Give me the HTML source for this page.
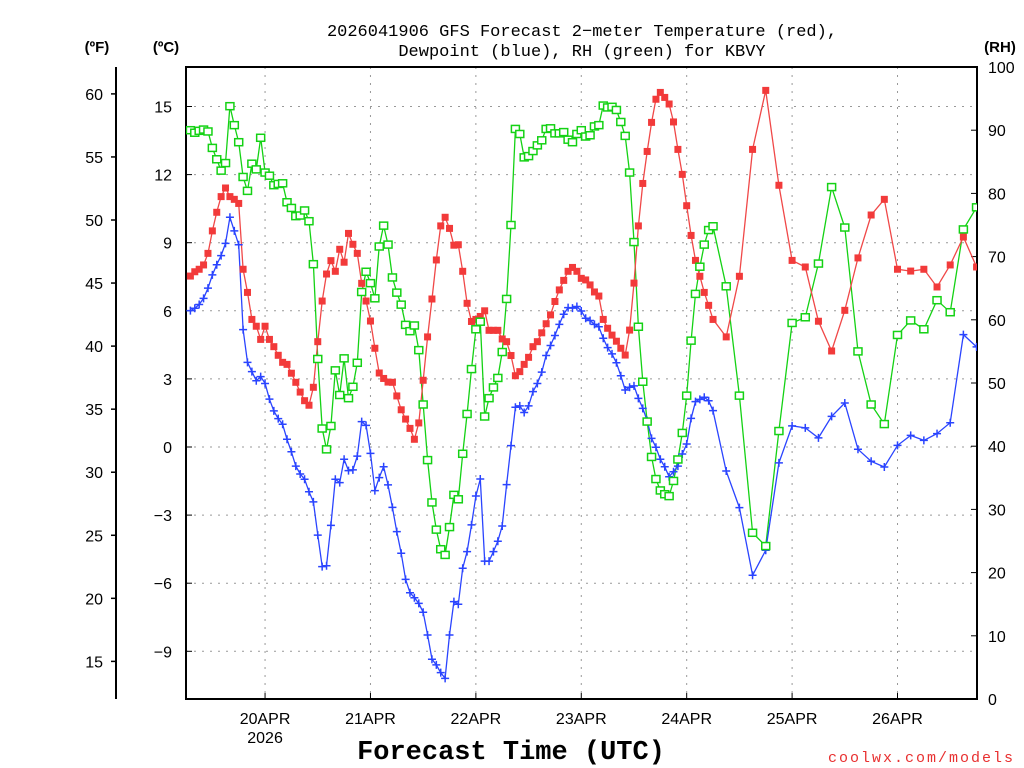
<!DOCTYPE html>
<html><head><meta charset="utf-8"><style>
html,body{margin:0;padding:0;background:#fff;}
svg{display:block;font-family:"Liberation Sans",sans-serif;}
</style></head><body>
<svg id="chart" width="1024" height="768" viewBox="0 0 1024 768" xmlns="http://www.w3.org/2000/svg">
<text x="582" y="36" font-size="17" font-family="Liberation Mono, monospace" text-anchor="middle">2026041906 GFS Forecast 2−meter Temperature (red),</text>
<text x="582" y="56" font-size="17" font-family="Liberation Mono, monospace" text-anchor="middle">Dewpoint (blue), RH (green) for KBVY</text>
<text x="97" y="52" font-size="15" font-weight="bold" text-anchor="middle">(ºF)</text>
<text x="166" y="52" font-size="15" font-weight="bold" text-anchor="middle">(ºC)</text>
<text x="1000" y="52" font-size="15" font-weight="bold" text-anchor="middle">(RH)</text>
<g id="grid"></g>
<g id="axes"></g>
<g id="series"></g>
<text x="511" y="759" font-size="27" font-family="Liberation Mono, monospace" font-weight="bold" text-anchor="middle">Forecast Time (UTC)</text>
<text x="1015" y="762" font-size="15" font-family="Liberation Mono, monospace" fill="#e83030" text-anchor="end" letter-spacing="2">coolwx.com/models</text>
</svg>
<script>
var dayLabels = ["20APR","21APR","22APR","23APR","24APR","25APR","26APR"];
var dayHours = [18,42,66,90,114,138,162];
var cTicks = [-9,-6,-3,0,3,6,9,12,15];
var fTicks = [15,20,25,30,35,40,45,50,55,60];
var rhTicks = [0,10,20,30,40,50,60,70,80,90,100];
var tempC = [7.53,7.72,7.83,8.02,8.53,9.52,10.34,11.03,11.41,11.03,10.91,10.73,7.83,6.81,5.62,5.32,4.74,5.32,4.74,4.42,4.04,3.73,3.64,3.25,2.85,2.42,2.04,1.84,2.63,4.64,6.43,
7.62,8.21,7.74,8.71,8.14,9.41,8.93,8.53,7.21,6.43,5.55,4.35,3.26,3.02,2.86,2.85,2.25,1.64,1.23,0.82,0.34,1.06,2.94,4.85,6.52,8.24,9.74,10.12,9.63,
8.89,8.91,7.74,6.33,5.53,5.62,5.75,6.00,5.14,5.14,5.14,4.76,4.64,4.03,3.14,3.32,3.64,3.95,4.42,4.64,5.03,5.43,5.82,6.41,6.92,7.34,7.74,7.91,7.74,
7.43,7.36,7.14,6.83,6.65,5.62,5.23,4.93,4.66,4.35,4.05,5.15,7.22,9.74,11.61,13.02,14.30,15.32,15.62,15.40,15.11,14.32,13.11,12.01,10.63,9.32,8.22,7.52,6.81,6.24,5.62,
4.85,7.52,13.11,15.71,11.53,8.22,7.93,5.54,4.23,6.02,8.33,10.22,10.91,7.83,7.75,7.83,7.05,8.02,9.25,7.93];
var dewC = [6.01,6.11,6.28,6.55,7.00,7.58,8.03,8.43,8.97,10.12,9.52,8.91,5.17,3.73,3.32,2.92,3.10,2.80,2.11,1.59,1.25,1.00,0.34,-0.21,-0.84,-1.19,-1.42,-1.97,-2.42,-3.88,-5.27,
-5.23,-3.45,-1.42,-1.57,-0.54,-1.04,-1.01,-0.40,1.12,0.95,-0.28,-1.92,-1.35,-0.87,-1.67,-2.66,-3.73,-4.68,-5.83,-6.42,-6.64,-6.89,-7.28,-8.28,-9.35,-9.60,-9.94,-10.19,-8.28,
-6.81,-6.93,-5.34,-4.61,-3.43,-2.16,-1.41,-5.03,-5.03,-4.61,-4.15,-3.48,-1.66,0.06,1.75,1.81,1.52,1.81,2.44,2.80,3.30,4.03,4.47,4.91,5.40,5.85,6.14,6.12,6.19,
5.99,5.67,5.57,5.40,5.30,4.79,4.38,4.10,3.71,3.14,2.51,2.63,2.69,2.14,1.70,1.16,0.38,-0.01,-0.54,-0.87,-1.31,-1.09,-0.84,-0.31,0.13,1.26,2.00,2.10,2.19,2.04,1.60,
-1.06,-2.67,-5.65,-4.55,-0.70,0.93,0.84,0.40,1.35,1.94,-0.10,-0.63,-0.88,0.07,0.51,0.29,0.59,1.07,4.95,4.41];
var rhPct = [90.0,89.6,89.9,90.1,89.8,87.2,85.4,83.6,84.8,93.8,90.8,88.1,82.6,80.4,84.7,83.8,88.8,83.3,82.8,81.3,81.5,81.6,78.6,77.7,76.4,76.5,77.3,75.6,68.8,53.8,42.8,
39.5,43.2,52.0,48.1,53.9,47.6,49.4,53.2,64.4,67.6,65.8,63.4,71.6,74.9,71.9,66.7,64.3,62.4,59.2,58.2,59.1,55.2,46.6,37.8,31.1,26.8,23.7,22.8,27.2,
32.3,31.6,38.8,45.1,52.2,58.5,59.7,44.7,47.6,49.3,50.8,54.9,63.3,75.0,90.2,89.4,85.7,85.9,86.7,87.6,88.4,90.2,90.3,89.5,89.5,89.7,88.5,88.1,89.4,
90.0,89.0,89.2,90.6,90.8,93.9,93.6,93.7,93.2,91.3,89.1,83.3,72.3,58.9,50.2,43.9,38.3,34.8,33.0,32.4,32.1,34.5,37.9,42.1,48.0,56.7,64.1,68.4,71.9,74.2,74.8,
65.3,48.0,26.3,24.2,42.4,59.5,60.4,68.9,81.0,74.6,55.0,46.6,43.5,57.6,59.9,58.5,63.1,61.2,74.3,77.8];
var hours = [];
for (var h = 1; h <= 120; h++) hours.push(h);
for (var h2 = 123; h2 <= 180; h2 += 3) hours.push(h2);

var L = 186, R = 977, T = 67, B = 699;
function xs(h){ return 186 + h * 4.392; }
function yc(c){ return 447 - c * 22.7; }
function yf(f){ return yc((f - 32) * 5 / 9); }
function yr(r){ return B - r * 6.32; }
var NS = "http://www.w3.org/2000/svg";
function mk(parent, tag, attrs){
  var e = document.createElementNS(NS, tag);
  for (var k in attrs) e.setAttribute(k, attrs[k]);
  parent.appendChild(e);
  return e;
}
var grid = document.getElementById('grid');
var axes = document.getElementById('axes');
var series = document.getElementById('series');

cTicks.forEach(function(c){
  var g = mk(grid, 'line', {x1:L, x2:R, y1:yc(c), y2:yc(c), stroke:'#999', 'stroke-width':1, 'stroke-dasharray':'2,6'});
  
  
  var t = mk(axes, 'line', {x1:L, x2:L+6, y1:yc(c), y2:yc(c), stroke:'#000', 'stroke-width':1});
  
  
  var tx = mk(axes, 'text', {x:172, y:yc(c)+6, 'font-size':16, 'text-anchor':'end'});
  
  
  tx.textContent = (c < 0 ? '−' + (-c) : '' + c);
});
dayHours.forEach(function(h, i){
  var x = xs(h);
  var g = mk(grid, 'line', {x1:x, x2:x, y1:T, y2:B, stroke:'#999', 'stroke-width':1, 'stroke-dasharray':'2,6'});
  
  
  var t = mk(axes, 'line', {x1:x, x2:x, y1:B-6, y2:B, stroke:'#000', 'stroke-width':1});
  
  
  var tx = mk(axes, 'text', {x:x, y:724, 'font-size':16, 'text-anchor':'middle'});
  
  
  tx.textContent = dayLabels[i];
});
var yr2026 = mk(axes, 'text', {x:xs(dayHours[0]), y:743, 'font-size':16, 'text-anchor':'middle'});


yr2026.textContent = '2026';

fTicks.forEach(function(f){
  var t = mk(axes, 'line', {x1:111, x2:116, y1:yf(f), y2:yf(f), stroke:'#000', 'stroke-width':1.5});
  
  
  var tx = mk(axes, 'text', {x:103, y:yf(f)+6, 'font-size':16, 'text-anchor':'end'});
  
  
  tx.textContent = '' + f;
});
rhTicks.forEach(function(r){
  var t = mk(axes, 'line', {x1:R, x2:R-6, y1:yr(r), y2:yr(r), stroke:'#000', 'stroke-width':1});
  
  
  var tx = mk(axes, 'text', {x:988, y:yr(r)+6, 'font-size':16, 'text-anchor':'start'});
  
  
  tx.textContent = '' + r;
});
var fl = mk(axes, 'line', {x1:116, x2:116, y1:T, y2:B, stroke:'#000', 'stroke-width':2});


var box = mk(axes, 'rect', {x:L, y:T, width:R-L, height:B-T, fill:'none', stroke:'#000', 'stroke-width':2});



function pts(arr, yfn){ return arr.map(function(v, i){ return xs(hours[i]).toFixed(1) + ',' + yfn(v).toFixed(1); }).join(' '); }
var clip = mk(series, 'clipPath', {id:'pc'});
mk(clip, 'rect', {x:L, y:T, width:R-L, height:B-T});

var gLine = mk(series, 'polyline', {points:pts(rhPct, yr), fill:'none', stroke:'#14d214', 'stroke-width':1.3, 'clip-path':'url(#pc)'});


var rLine = mk(series, 'polyline', {points:pts(tempC, yc), fill:'none', stroke:'#f04848', 'stroke-width':1.3, 'clip-path':'url(#pc)'});


var bLine = mk(series, 'polyline', {points:pts(dewC, yc), fill:'none', stroke:'#2a44ff', 'stroke-width':1.3, 'clip-path':'url(#pc)'});



var mg = mk(series, 'g', {'clip-path':'url(#pc)'});
tempC.forEach(function(v, i){
  var x = xs(hours[i]), y = yc(v);
  var m = mk(mg, 'rect', {x:x-3.5, y:y-3.5, width:7, height:7, fill:'#f23a3a'});
  
  
});
dewC.forEach(function(v, i){
  var x = xs(hours[i]), y = yc(v);
  var m = mk(mg, 'path', {d:'M'+(x-4)+' '+y+'H'+(x+4)+'M'+x+' '+(y-4)+'V'+(y+4), stroke:'#2a44ff', 'stroke-width':1.5, fill:'none'});
  
  
});
rhPct.forEach(function(v, i){
  var x = xs(hours[i]), y = yr(v);
  var m = mk(mg, 'rect', {x:x-4, y:y-3.5, width:8, height:7, fill:'#fff', stroke:'#14d214', 'stroke-width':1.5});
  
  
});
</script>
</body></html>
